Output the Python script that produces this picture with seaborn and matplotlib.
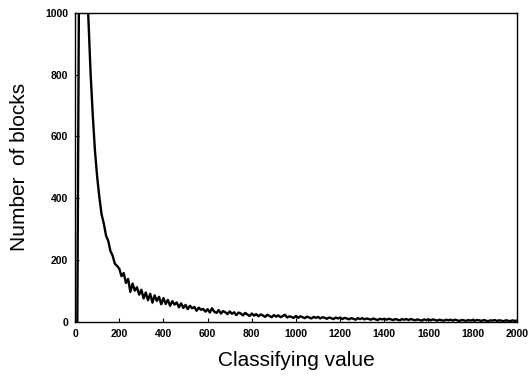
import numpy as np
import pandas as pd
import matplotlib
matplotlib.use("Agg")
import matplotlib.pyplot as plt
import seaborn as sns

# classifying value grid (step 10) and number of blocks
classifying_value = np.arange(0, 2010, 10)
number_of_blocks = [
    0, 0, 1450, 1620, 1390, 1160, 985, 805, 668, 552,          # 0-90
    468, 402, 347, 318, 279, 262, 229, 214, 188, 181,          # 100-190
    172, 148, 158, 126, 139, 97, 124, 101, 112, 88,            # 200-290
    104, 76, 95, 70, 91, 62, 86, 68, 81, 57,                   # 300-390
    77, 58, 71, 52, 67, 56, 63, 47, 60, 45,                    # 400-490
    55, 41, 52, 44, 48, 36, 46, 39, 42, 33,                    # 500-590
    41, 30, 44, 33, 29, 38, 27, 35, 31, 25,                    # 600-690
    34, 26, 31, 22, 30, 27, 21, 29, 24, 19,                    # 700-790
    27, 20, 25, 18, 24, 21, 16, 23, 19, 15,                    # 800-890
    22, 17, 21, 15, 19, 23, 14, 18, 16, 13,                    # 900-990
    19, 13, 18, 15, 12, 17, 14, 11, 16, 13,                    # 1000-1090
    16, 11, 15, 13, 10, 14, 12, 9, 14, 11,                     # 1100-1190
    14, 9, 13, 11, 8, 12, 10, 7, 12, 9,                        # 1200-1290
    12, 8, 11, 9, 7, 11, 8, 6, 10, 8,                          # 1300-1390
    10, 7, 10, 8, 6, 9, 7, 5, 9, 7,                            # 1400-1490
    9, 6, 9, 7, 5, 8, 6, 4, 8, 6,                              # 1500-1590
    8, 5, 8, 6, 4, 7, 5, 4, 7, 5,                              # 1600-1690
    7, 4, 7, 5, 3, 6, 5, 3, 6, 4,                              # 1700-1790
    6, 4, 6, 5, 3, 6, 4, 2, 5, 4,                              # 1800-1890
    6, 3, 5, 4, 2, 5, 4, 2, 5, 3,                              # 1900-1990
    4,                                                         # 2000
]
x_ticks = [0, 200, 400, 600, 800, 1000, 1200, 1400, 1600, 1800, 2000]
y_ticks = [0, 200, 400, 600, 800, 1000]

df = pd.DataFrame({"value": classifying_value, "blocks": number_of_blocks})

sns.set_theme(style="ticks")
plt.rcParams["font.family"] = ["Liberation Sans", "DejaVu Sans"]
plt.rcParams["text.color"] = "black"
plt.rcParams["axes.labelcolor"] = "black"

fig = plt.figure(figsize=(5.29, 3.8), dpi=100)
ax = fig.add_axes([0.142, 0.153, 0.835, 0.813])
sns.lineplot(data=df, x="value", y="blocks", color="black", linewidth=1.7, ax=ax)

ax.set_xlim(0, 2000)
ax.set_ylim(0, 1000)
ax.set_xticks(x_ticks)
ax.set_yticks(y_ticks)
ax.set_xticklabels([str(t) for t in x_ticks], fontsize=7.5, fontweight="bold")
ax.set_yticklabels([str(t) for t in y_ticks], fontsize=7.5, fontweight="bold")
ax.tick_params(direction="in", length=3, width=0.8, colors="black", pad=5)
for s in ax.spines.values():
    s.set_visible(True)
    s.set_color("black")
    s.set_linewidth(1.0)

ax.set_xlabel("Classifying value", fontsize=15, labelpad=9)
ax.set_ylabel("Number  of blocks", fontsize=15, labelpad=12)

fig.savefig("out.png", dpi=100)
